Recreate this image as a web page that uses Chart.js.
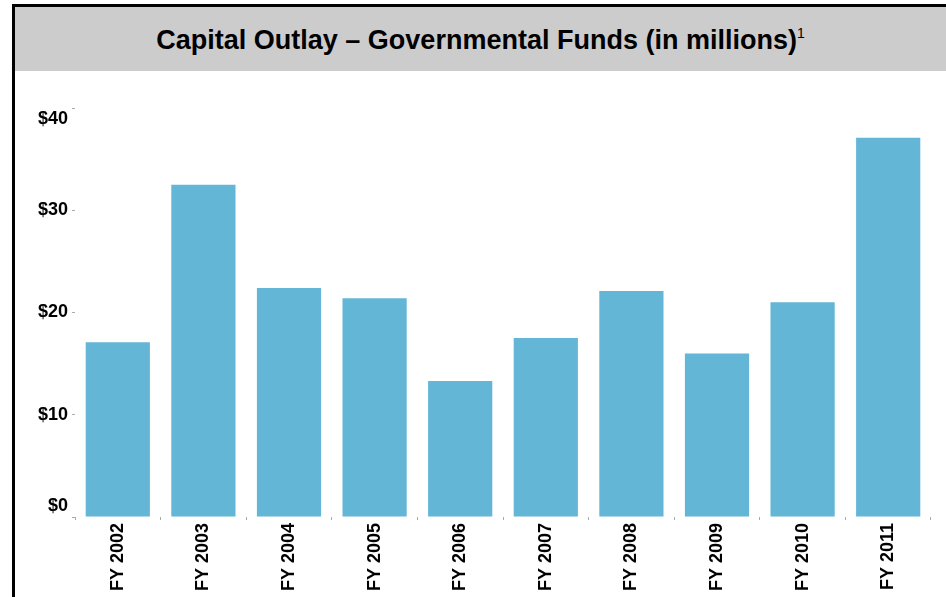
<!DOCTYPE html>
<html>
<head>
<meta charset="utf-8">
<title>Capital Outlay – Governmental Funds</title>
<script src="https://cdn.jsdelivr.net/npm/chart.js@4"></script>
<style>
  html, body { margin: 0; padding: 0; background: #fff; }
  body { width: 946px; height: 597px; position: relative; overflow: hidden; font-family: "Liberation Sans", Arial, sans-serif; }
  #frame { position: absolute; left: 12px; top: 4px; right: 0; bottom: 0; border-top: 3px solid #000; border-left: 3px solid #000; }
  #header { position: absolute; left: 0; top: 0; right: 0; height: 64px; background: #cccccc; text-align: center; }
  #header h1 { margin: 0; font-size: 27px; font-weight: bold; line-height: 64px; color: #000; padding-top: 1px; }
  #header sup { font-size: 14px; font-weight: normal; color: #000; vertical-align: 11px; line-height: 0; }
  #wrap { position: absolute; left: 0; top: 0; width: 946px; height: 597px; }
</style>
</head>
<body>
<div id="frame">
  <div id="header"><h1>Capital Outlay – Governmental Funds (in millions)<sup>1</sup></h1></div>
</div>
<div id="wrap"><canvas id="outlayChart" width="946" height="597"></canvas></div>

<script>
let years = ['FY 2002', 'FY 2003', 'FY 2004', 'FY 2005', 'FY 2006', 'FY 2007', 'FY 2008', 'FY 2009', 'FY 2010', 'FY 2011'];
let outlay = [17.1, 32.5, 22.4, 21.4, 13.3, 17.5, 22.1, 16.0, 21.0, 37.1];
let yTicks = [0, 10, 20, 30, 40];

function drawChart() {
    let ctx = document.getElementById('outlayChart').getContext('2d');
    let tickFont = { family: '"Liberation Sans", Arial, sans-serif', size: 18, weight: 'bold' };
    let yMin = yTicks[0];
    let yMax = yTicks[yTicks.length - 1];

    new Chart(ctx, {
        type: 'bar',
        data: {
            labels: years,
            datasets: [{
                data: outlay,
                backgroundColor: '#63b6d6',
                borderWidth: 0,
                categoryPercentage: 0.75,
                barPercentage: 1.0
            }]
        },
        options: {
            responsive: false,
            animation: false,
            layout: { padding: { top: 108, right: 15, bottom: 0, left: 0 } },
            plugins: {
                legend: { display: false },
                tooltip: { enabled: false }
            },
            scales: {
                x: {
                    grid: { drawOnChartArea: false, drawTicks: true, tickLength: 3, color: '#aaaaaa' },
                    border: { display: false },
                    ticks: {
                        color: '#000',
                        font: tickFont,
                        minRotation: 90,
                        maxRotation: 90,
                        padding: 3
                    },
                    afterFit: function(scale) { scale.height = 80; }
                },
                y: {
                    min: yMin,
                    max: yMax,
                    grid: { drawOnChartArea: false, drawTicks: true, tickLength: 3, color: '#aaaaaa' },
                    border: { display: false },
                    afterBuildTicks: function(scale) {
                        scale.ticks = yTicks.map(function(v) { return { value: v }; });
                    },
                    ticks: {
                        color: '#000',
                        font: tickFont,
                        padding: 4,
                        callback: function(value) {
                            // keep the end labels inside the axis range
                            if (value === yMin) return ['$' + value, ''];
                            if (value === yMax) return ['', '$' + value];
                            return '$' + value;
                        }
                    },
                    afterFit: function(scale) { scale.width = 75; }
                }
            }
        }
    });
}

drawChart();
</script>
</body>
</html>
